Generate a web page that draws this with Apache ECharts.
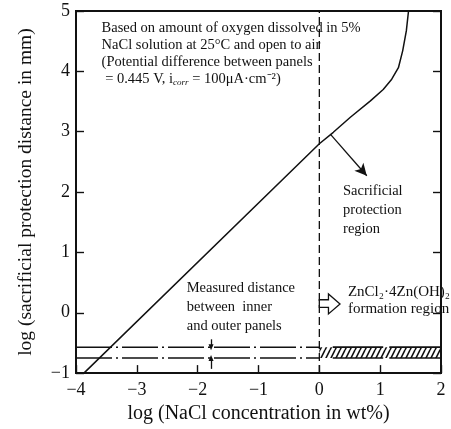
<!DOCTYPE html>
<html><head><meta charset="utf-8">
<script src="https://cdn.jsdelivr.net/npm/echarts@6/dist/echarts.min.js"></script>
<style>html,body{margin:0;padding:0;background:#fff}#c{width:451px;height:429px}</style>
</head><body><div id="c"></div>
<script>
// ---- data ----
const xRange = [-4, 2];
const yRange = [-1, 5];
const curveX = [-3.87, 0, 0.23, 0.51, 0.84, 1.05, 1.19, 1.30, 1.37, 1.43, 1.466];
const curveY = [-1, 2.8, 2.99, 3.24, 3.51, 3.70, 3.87, 4.06, 4.34, 4.67, 5];
const panelLevels = [-0.57, -0.75];          // measured distance band (upper, lower)
const measuredX = [-4, 0];                   // dash-dot extent
const hatchX = [0, 2];                       // ZnCl2 formation band extent
const hatchBorders = [[0.22, 1.05], [1.15, 2]];
const boundaryX = 0;
const gapArrowX = -1.78;
const gapArrowDown = [-0.44, -0.57];
const gapArrowUp = [-0.93, -0.75];
const pointerFrom = [0.18, 2.96];
const pointerTo = [0.78, 2.27];
const hollowArrow = [[0, 0.215], [0.15, 0.215], [0.15, 0.31], [0.34, 0.145], [0.15, -0.02], [0.15, 0.09], [0, 0.09]];
const noteTexts = [
  'Based on amount of oxygen dissolved in 5%\nNaCl solution at 25°C and open to air\n(Potential difference between panels\n = 0.445 V, i{sub|corr} = 100μA·cm⁻²)',
  'Sacrificial\nprotection\nregion',
  'Measured distance\nbetween  inner\nand outer panels',
  'ZnCl₂·4Zn(OH)₂\nformation region'
];
const noteX = [-3.58, 0.39, -2.18, 0.47];
const noteY = [4.86, 2.17, 0.57, 0.49];
const noteLineHeight = [17, 19, 19, 17];
const noteSize = [14.5, 14.5, 14.5, 15];

const FONT = 'Liberation Serif';
const INK = '#111';

function hatchPattern() {
  const c = document.createElement('canvas');
  c.width = 5; c.height = 10;
  const g = c.getContext('2d');
  g.strokeStyle = INK; g.lineWidth = 1.6;
  g.beginPath();
  for (const dx of [-5, 0, 5]) { g.moveTo(dx, 10); g.lineTo(dx + 5, 0); }
  g.stroke();
  return c;
}

const chart = echarts.init(document.getElementById('c'), null, {renderer: 'canvas'});
const minusFmt = v => v < 0 ? '\u2212' + (-v) : String(v);

const curveData = curveX.map((x, i) => [x, curveY[i]]);

const series = [
  {
    type: 'line', data: curveData, smooth: false, symbol: 'none',
    lineStyle: {color: INK, width: 1.5, join: 'round'}, z: 5,
    markLine: {
      silent: true, animation: false,
      lineStyle: {color: INK, width: 1.3, type: 'solid'},
      label: {show: false},
      data: [
        [{coord: pointerFrom, symbol: 'none'}, {coord: pointerTo, symbol: 'arrow', symbolSize: [9, 12]}],
        [{coord: [gapArrowX, gapArrowDown[0]], symbol: 'none'}, {coord: [gapArrowX, gapArrowDown[1]], symbol: 'triangle', symbolSize: [5, 6], symbolRotate: 180}],
        [{coord: [gapArrowX, gapArrowUp[0]], symbol: 'none'}, {coord: [gapArrowX, gapArrowUp[1]], symbol: 'triangle', symbolSize: [5, 6]}]
      ]
    }
  },
  // vertical dashed boundary
  {
    type: 'line', data: [[boundaryX, yRange[0]], [boundaryX, yRange[1]]], symbol: 'none',
    lineStyle: {color: INK, width: 1.3, type: [8, 4]}
  },
  // dash-dot measured distance lines
  ...panelLevels.map(v => ({
    type: 'line', data: [[measuredX[0], v], [measuredX[1], v]], symbol: 'none',
    lineStyle: {color: INK, width: 1.5, type: [36, 4, 2, 4]}
  })),
  // hatched band
  {
    type: 'line', data: [], symbol: 'none',
    markArea: {
      silent: true,
      itemStyle: {color: {image: hatchPattern(), repeat: 'repeat'}, borderWidth: 0},
      data: [[{coord: [hatchX[0], panelLevels[0]]}, {coord: [hatchX[1], panelLevels[1]]}]]
    }
  },
  // band borders
  ...hatchBorders.flatMap(seg => panelLevels.map(v => ({
    type: 'line', data: [[seg[0], v], [seg[1], v]], symbol: 'none',
    lineStyle: {color: INK, width: 1.6}
  }))),
  // hollow arrow
  {
    type: 'custom', data: [0], clip: false,
    renderItem: (params, api) => ({
      type: 'polygon',
      shape: {points: hollowArrow.map(p => api.coord(p))},
      style: {fill: '#fff', stroke: INK, lineWidth: 1.3}
    }), z: 6
  },
  // notes
  {
    type: 'custom', data: noteX.map((x, i) => [x, noteY[i]]), clip: false,
    renderItem: (params, api) => {
      const i = params.dataIndex;
      const p = api.coord([api.value(0), api.value(1)]);
      return {
        type: 'text', x: p[0], y: p[1],
        style: {
          text: noteTexts[i], fill: INK, fontFamily: FONT, fontSize: noteSize[i],
          lineHeight: noteLineHeight[i], align: 'left', verticalAlign: 'top',
          rich: {sub: {fontSize: 9, fontStyle: 'italic', fontFamily: FONT, fill: INK, verticalAlign: 'bottom', padding: [6, 0, 0, 0]}}
        }
      };
    }, z: 7
  }
];

const mkTick = () => ({show: true, inside: true, length: 8, lineStyle: {color: INK, width: 1.4}});
chart.setOption({
  animation: false,
  backgroundColor: '#fff',
  grid: {left: 76, right: 10, top: 11, bottom: 55, show: true, borderColor: INK, borderWidth: 2, backgroundColor: 'transparent'},
  xAxis: {
    type: 'value', min: xRange[0], max: xRange[1], interval: 1, position: 'bottom',
    name: 'log (NaCl concentration in wt%)', nameLocation: 'middle', nameGap: 30,
    nameTextStyle: {fontFamily: FONT, fontSize: 20, color: INK},
    axisLine: {show: true, onZero: false, lineStyle: {color: INK, width: 2}}, splitLine: {show: false},
    axisTick: mkTick(),
    axisLabel: {formatter: minusFmt, fontFamily: FONT, fontSize: 18, color: INK, margin: 8}
  },
  yAxis: [
    {
      type: 'value', min: yRange[0], max: yRange[1], interval: 1,
      name: 'log (sacrificial protection distance in mm)', nameLocation: 'middle', nameGap: 40,
      nameTextStyle: {fontFamily: FONT, fontSize: 19.5, color: INK},
      axisLine: {show: true, onZero: false, lineStyle: {color: INK, width: 2}}, splitLine: {show: false},
      axisTick: mkTick(),
      axisLabel: {formatter: minusFmt, fontFamily: FONT, fontSize: 18, color: INK, margin: 6}
    },
    {
      type: 'value', position: 'right', min: yRange[0], max: yRange[1], interval: 1,
      axisLine: {show: true, onZero: false, lineStyle: {color: INK, width: 2}}, splitLine: {show: false},
      axisTick: mkTick(),
      axisLabel: {show: false}
    }
  ],
  series: series
});
</script>
</body></html>
